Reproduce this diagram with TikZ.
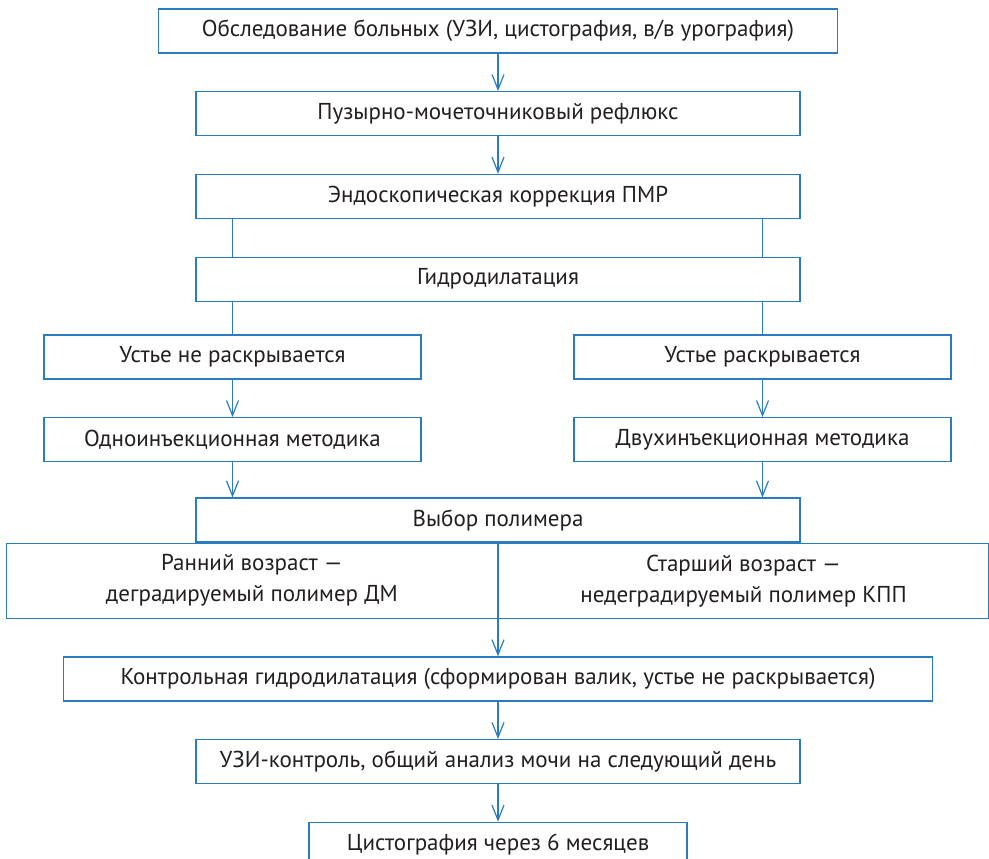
\documentclass[tikz,border=0pt]{standalone}
\usepackage{fontspec}
\setmainfont{PT Sans}
\usetikzlibrary{positioning,arrows.meta}
\definecolor{lineblue}{HTML}{2B7BC1}
\definecolor{textgray}{HTML}{231F20}

\begin{document}
\begin{tikzpicture}[
    x = 1pt, y = -1pt,
    > = {Straight Barb[length=15pt, width=12pt]},
    node distance = 37.5pt,
    line width = 1.2pt,
    color = lineblue,
    font = \fontsize{23}{31}\selectfont,
    box/.style={rectangle, draw, text=textgray, align=center, minimum height=44pt, inner sep=0pt},
    wide/.style={box, minimum width=604pt},
    side/.style={box, minimum width=377pt}
]
    \useasboundingbox (0,0) rectangle (989,859);

    \node[box, minimum width=679pt] (exam) at (498,31) {Обследование больных (УЗИ, цистография, в/в урография)};
    \node[wide, below=of exam] (reflux) {Пузырно-мочеточниковый рефлюкс};
    \node[wide, below=of reflux] (correct) {Эндоскопическая коррекция ПМР};
    \node[wide, below=of correct] (hydro) {Гидродилатация};

    \node[side] (closed) at (232.5,357) {Устье не раскрывается};
    \node[side] (opened) at (762.5,357) {Устье раскрывается};
    \node[side, below=of closed] (single) {Одноинъекционная методика};
    \node[side, below=of opened] (double) {Двухинъекционная методика};

    \node[wide] (choice) at (498,520) {Выбор полимера};
    \node[box, minimum width=491pt, minimum height=75pt, anchor=north east] (early) at (choice.south) {Ранний возраст —\\деградируемый полимер ДМ};
    \node[box, minimum width=490pt, minimum height=75pt, anchor=north west] (late) at (choice.south) {Старший возраст —\\недеградируемый полимер КПП};

    \node[box, minimum width=869pt, below=of early.south east] (control) {Контрольная гидродилатация (сформирован валик, устье не раскрывается)};
    \node[wide, below=of control] (ultra) {УЗИ-контроль, общий анализ мочи на следующий день};
    \node[box, minimum width=378pt, below=of ultra] (cysto) {Цистография через 6 месяцев};

    \draw[->] (exam) -- (reflux);
    \draw[->] (reflux) -- (correct);
    \draw (correct.south -| closed) -- (hydro.north -| closed);
    \draw (correct.south -| opened) -- (hydro.north -| opened);
    \draw (hydro.south -| closed) -- (closed);
    \draw (hydro.south -| opened) -- (opened);
    \draw[->] (closed) -- (single);
    \draw[->] (opened) -- (double);
    \draw[->] (single) -- (single |- choice.north);
    \draw[->] (double) -- (double |- choice.north);
    \draw[->] (early.south east) -- (control);
    \draw[->] (control) -- (ultra);
    \draw[->] (ultra) -- (cysto);
\end{tikzpicture}
\end{document}
